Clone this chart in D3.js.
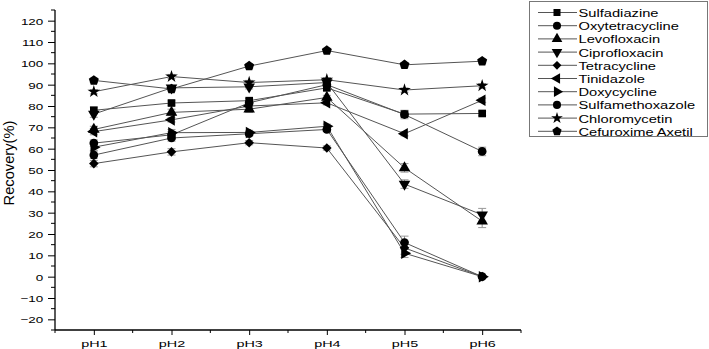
<!DOCTYPE html>
<html><head><meta charset="utf-8">
<script src="https://cdn.jsdelivr.net/npm/d3@7"></script>
<style>body{margin:0;background:#fff}svg{display:block}text{font-family:"Liberation Sans",Arial,sans-serif}</style>
</head><body>
<svg id="c" width="709" height="349"></svg>
<script>
const categories = ["pH1","pH2","pH3","pH4","pH5","pH6"];
const seriesNames = ["Sulfadiazine","Oxytetracycline","Levofloxacin","Ciprofloxacin","Tetracycline","Tinidazole","Doxycycline","Sulfamethoxazole","Chloromycetin","Cefuroxime Axetil"];
const sulfadiazine     = [78.0, 81.4, 82.5, 88.5, 76.2, 76.5];
const oxytetracycline  = [57.0, 65.0, 67.0, 69.0, 16.0, 0.0];
const levofloxacin     = [69.0, 77.0, 78.5, 84.0, 51.0, 26.0];
const ciprofloxacin    = [76.2, 88.5, 89.0, 91.0, 43.4, 29.0];
const tetracycline     = [53.0, 58.5, 62.8, 60.3, 13.5, 0.0];
const tinidazole       = [68.0, 73.5, 80.0, 81.5, 67.0, 82.7];
const doxycycline      = [60.7, 67.5, 67.6, 70.5, 11.0, 0.0];
const sulfamethoxazole = [62.6, 66.5, 81.5, 90.0, 76.0, 58.7];
const chloromycetin    = [86.7, 93.8, 91.0, 92.3, 87.5, 89.5];
const cefuroxime       = [92.0, 88.0, 98.7, 106.0, 99.3, 101.0];
const errSulfadiazine     = [1.5, 1.0, 1.0, 1.0, 1.0, 1.0];
const errOxytetracycline  = [1.5, 1.5, 1.0, 1.0, 3.0, 0.5];
const errLevofloxacin     = [1.5, 1.5, 1.5, 1.0, 2.0, 3.0];
const errCiprofloxacin    = [1.5, 1.0, 1.0, 1.0, 2.0, 3.0];
const errTetracycline     = [1.5, 1.5, 1.0, 1.0, 3.0, 0.5];
const errTinidazole       = [1.5, 1.0, 1.0, 1.0, 1.0, 1.0];
const errDoxycycline      = [1.5, 1.5, 1.0, 1.0, 2.0, 0.5];
const errSulfamethoxazole = [1.5, 1.5, 1.0, 1.0, 2.0, 2.0];
const errChloromycetin    = [1.0, 1.0, 1.0, 1.0, 1.0, 1.0];
const errCefuroxime       = [1.0, 1.0, 1.0, 1.0, 1.0, 1.0];
const yTicks = [-20,-10,0,10,20,30,40,50,60,70,80,90,100,110,120];

const values = [sulfadiazine,oxytetracycline,levofloxacin,ciprofloxacin,tetracycline,tinidazole,doxycycline,sulfamethoxazole,chloromycetin,cefuroxime];
const errors = [errSulfadiazine,errOxytetracycline,errLevofloxacin,errCiprofloxacin,errTetracycline,errTinidazole,errDoxycycline,errSulfamethoxazole,errChloromycetin,errCefuroxime];

const pentagon = {draw(ctx, size){const r=Math.sqrt(size/2.38);for(let i=0;i<5;i++){const a=-Math.PI/2+i*2*Math.PI/5;const px=r*Math.cos(a),py=r*Math.sin(a);i?ctx.lineTo(px,py):ctx.moveTo(px,py);}ctx.closePath();}};
const markers = [
  [d3.symbolSquare,0,58],[d3.symbolCircle,0,60],[d3.symbolTriangle,0,58],[d3.symbolTriangle,180,58],
  [d3.symbolSquare,45,46],[d3.symbolTriangle,-90,58],[d3.symbolTriangle,90,58],[d3.symbolCircle,0,60],
  [d3.symbolStar,0,50],[pentagon,0,66]
];

const svg = d3.select("#c");
const x = d3.scaleLinear().domain([0.5,6.5]).range([55,521]);
const y = d3.scaleLinear().domain([-25,125]).range([330,10]);

// y axis
const yAxis = d3.axisLeft(y).tickValues(yTicks).tickSize(7).tickFormat(d3.format("d"));
const gy = svg.append("g").attr("transform","translate(55,0)").call(yAxis);
gy.select(".domain").attr("d","M0,10V330").attr("stroke","#000").attr("stroke-width",1.3);
gy.selectAll(".tick line").attr("stroke","#000");
gy.selectAll(".tick text").attr("font-size",9.4).attr("fill","#000")
  .attr("x",0).attr("dy","0.36em").attr("transform","translate(-11.7,0) scale(1.43,1)");
gy.selectAll(".ym").data(d3.range(-25,126,10)).enter().append("line").attr("class","ym")
  .attr("x1",-4).attr("x2",0).attr("y1",d=>y(d)).attr("y2",d=>y(d)).attr("stroke","#000");

// x axis
const xAxis = d3.axisBottom(x).tickValues([1,2,3,4,5,6]).tickSize(5).tickFormat(d=>categories[d-1]);
const gx = svg.append("g").attr("transform","translate(0,330)").call(xAxis);
gx.select(".domain").attr("d","M55,0H521").attr("stroke","#000").attr("stroke-width",1.3);
gx.selectAll(".tick line").attr("stroke","#000");
gx.selectAll(".tick text").attr("font-size",9.6).attr("fill","#000")
  .attr("y",0).attr("dy",0).attr("transform","translate(0,16.5) scale(1.5,1)");
gx.selectAll(".xm").data([0.5,1.5,2.5,3.5,4.5,5.5,6.5]).enter().append("line").attr("class","xm")
  .attr("x1",d=>x(d)).attr("x2",d=>x(d)).attr("y1",0).attr("y2",3).attr("stroke","#000");

svg.append("text").attr("transform","translate(13.7,163) rotate(-90)").attr("text-anchor","middle")
  .attr("font-size",14.7).text("Recovery(%)");

// error bars
const gE = svg.append("g");
values.forEach((vals,si)=>{
  vals.forEach((v,i)=>{
    const e = errors[si][i], cx = x(i+1);
    gE.append("line").attr("x1",cx).attr("x2",cx).attr("y1",y(v-e)).attr("y2",y(v+e)).attr("stroke","#888").attr("stroke-width",1);
    [v-e,v+e].forEach(t=>gE.append("line").attr("x1",cx-4).attr("x2",cx+4).attr("y1",y(t)).attr("y2",y(t)).attr("stroke","#999").attr("stroke-width",1));
  });
});

// lines
const line = d3.line().x((d,i)=>x(i+1)).y(d=>y(d));
values.forEach(vals=>{
  svg.append("path").attr("d",line(vals)).attr("fill","none").attr("stroke","#555").attr("stroke-width",1);
});

// markers
values.forEach((vals,si)=>{
  const [type,rot,size]=markers[si];
  const p = d3.symbol().type(type).size(size)();
  vals.forEach((v,i)=>{
    svg.append("path").attr("d",p).attr("transform",`translate(${x(i+1)},${y(v)}) rotate(${rot})`).attr("fill","#000");
  });
});

// legend
const lg = svg.append("g");
lg.append("rect").attr("x",529.5).attr("y",1.5).attr("width",178).attr("height",135).attr("fill","#fff").attr("stroke","#777");
seriesNames.forEach((name,i)=>{
  const cy = 12.5 + i*13.2;
  lg.append("line").attr("x1",538).attr("x2",577).attr("y1",cy).attr("y2",cy).attr("stroke","#555");
  const [type,rot,size]=markers[i];
  lg.append("path").attr("d",d3.symbol().type(type).size(size*0.85)()).attr("transform",`translate(557,${cy}) rotate(${rot})`).attr("fill","#000");
  lg.append("text").attr("transform",`translate(578.5,${cy+4.5}) scale(1.3,1)`).attr("font-size",11.3).text(name);
});
</script>
</body></html>
